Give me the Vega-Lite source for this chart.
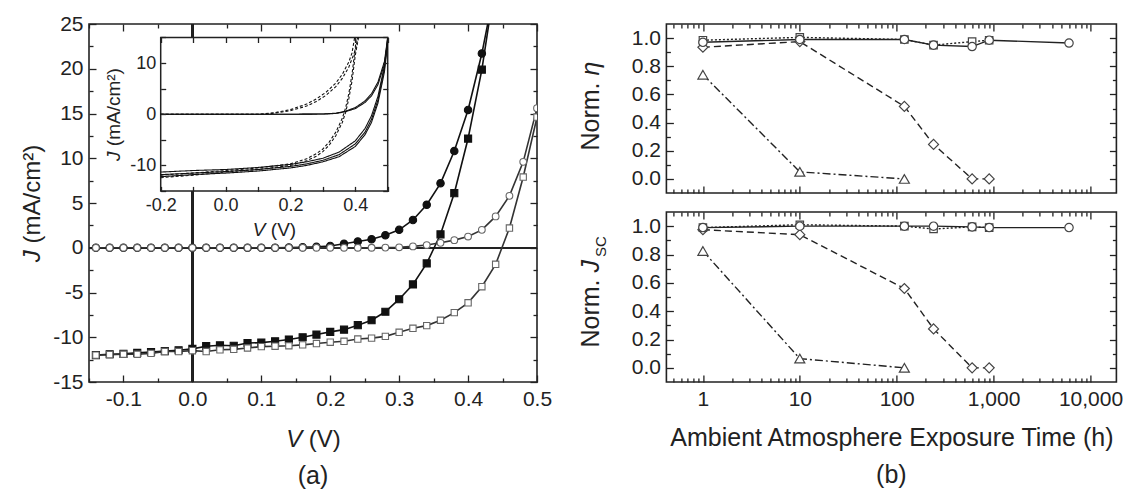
{
  "$schema": "https://vega.github.io/schema/vega-lite/v6.json",
  "padding": {"left": 19, "top": 12, "right": 0, "bottom": 0},
  "config": {
    "font": "Liberation Sans",
    "view": {"stroke": "#222", "strokeWidth": 1.6},
    "axis": {"domain": false, "grid": false, "labelFontSize": 21, "titleFontSize": 24, "labelColor": "#222", "titleColor": "#222", "tickColor": "#222", "tickWidth": 1.3, "labelFont": "Liberation Sans", "titleFont": "Liberation Sans", "titleFontWeight": "normal", "labelOverlap": false, "labelFlush": false, "labelPadding": 13, "tickSize": -7},
    "title": {"fontSize": 25, "fontWeight": "normal", "font": "Liberation Sans", "color": "#222"}
  },
  "datasets": {
    "iv": [
      {"s": "d1", "V": -0.14, "J": 0}, {"s": "d1", "V": -0.12, "J": 0}, {"s": "d1", "V": -0.1, "J": 0}, {"s": "d1", "V": -0.08, "J": 0}, {"s": "d1", "V": -0.06, "J": 0}, {"s": "d1", "V": -0.04, "J": 0}, {"s": "d1", "V": -0.02, "J": 0}, {"s": "d1", "V": 0, "J": 0}, {"s": "d1", "V": 0.02, "J": 0}, {"s": "d1", "V": 0.04, "J": 0}, {"s": "d1", "V": 0.06, "J": 0}, {"s": "d1", "V": 0.08, "J": 0}, {"s": "d1", "V": 0.1, "J": 0}, {"s": "d1", "V": 0.12, "J": 0}, {"s": "d1", "V": 0.14, "J": 0.02}, {"s": "d1", "V": 0.16, "J": 0.05}, {"s": "d1", "V": 0.18, "J": 0.1}, {"s": "d1", "V": 0.2, "J": 0.2}, {"s": "d1", "V": 0.22, "J": 0.45}, {"s": "d1", "V": 0.24, "J": 0.7}, {"s": "d1", "V": 0.26, "J": 0.95}, {"s": "d1", "V": 0.28, "J": 1.4}, {"s": "d1", "V": 0.3, "J": 2.0}, {"s": "d1", "V": 0.32, "J": 3.1}, {"s": "d1", "V": 0.34, "J": 4.8}, {"s": "d1", "V": 0.36, "J": 7.2}, {"s": "d1", "V": 0.38, "J": 10.8}, {"s": "d1", "V": 0.4, "J": 15.4}, {"s": "d1", "V": 0.42, "J": 21.7}, {"s": "d1", "V": 0.44, "J": 29.5},
      {"s": "l1", "V": -0.14, "J": -12.0}, {"s": "l1", "V": -0.12, "J": -11.9}, {"s": "l1", "V": -0.1, "J": -11.85}, {"s": "l1", "V": -0.08, "J": -11.75}, {"s": "l1", "V": -0.06, "J": -11.65}, {"s": "l1", "V": -0.04, "J": -11.55}, {"s": "l1", "V": -0.02, "J": -11.45}, {"s": "l1", "V": 0, "J": -11.3}, {"s": "l1", "V": 0.02, "J": -11.0}, {"s": "l1", "V": 0.04, "J": -10.9}, {"s": "l1", "V": 0.06, "J": -10.95}, {"s": "l1", "V": 0.08, "J": -10.65}, {"s": "l1", "V": 0.1, "J": -10.6}, {"s": "l1", "V": 0.12, "J": -10.45}, {"s": "l1", "V": 0.14, "J": -10.25}, {"s": "l1", "V": 0.16, "J": -10.0}, {"s": "l1", "V": 0.18, "J": -9.7}, {"s": "l1", "V": 0.2, "J": -9.4}, {"s": "l1", "V": 0.22, "J": -9.15}, {"s": "l1", "V": 0.24, "J": -8.65}, {"s": "l1", "V": 0.26, "J": -8.1}, {"s": "l1", "V": 0.28, "J": -7.15}, {"s": "l1", "V": 0.3, "J": -5.75}, {"s": "l1", "V": 0.32, "J": -4.1}, {"s": "l1", "V": 0.34, "J": -1.75}, {"s": "l1", "V": 0.36, "J": 1.5}, {"s": "l1", "V": 0.38, "J": 6.1}, {"s": "l1", "V": 0.4, "J": 12.2}, {"s": "l1", "V": 0.42, "J": 19.9}, {"s": "l1", "V": 0.44, "J": 30},
      {"s": "d2", "V": -0.14, "J": 0}, {"s": "d2", "V": -0.12, "J": 0}, {"s": "d2", "V": -0.1, "J": 0}, {"s": "d2", "V": -0.08, "J": 0}, {"s": "d2", "V": -0.06, "J": 0}, {"s": "d2", "V": -0.04, "J": 0}, {"s": "d2", "V": -0.02, "J": 0}, {"s": "d2", "V": 0, "J": 0}, {"s": "d2", "V": 0.02, "J": 0}, {"s": "d2", "V": 0.04, "J": 0}, {"s": "d2", "V": 0.06, "J": 0}, {"s": "d2", "V": 0.08, "J": 0}, {"s": "d2", "V": 0.1, "J": 0}, {"s": "d2", "V": 0.12, "J": 0}, {"s": "d2", "V": 0.14, "J": 0}, {"s": "d2", "V": 0.16, "J": 0}, {"s": "d2", "V": 0.18, "J": 0}, {"s": "d2", "V": 0.2, "J": 0}, {"s": "d2", "V": 0.22, "J": 0}, {"s": "d2", "V": 0.24, "J": 0}, {"s": "d2", "V": 0.26, "J": 0}, {"s": "d2", "V": 0.28, "J": 0.02}, {"s": "d2", "V": 0.3, "J": 0.05}, {"s": "d2", "V": 0.32, "J": 0.15}, {"s": "d2", "V": 0.34, "J": 0.3}, {"s": "d2", "V": 0.36, "J": 0.55}, {"s": "d2", "V": 0.38, "J": 0.85}, {"s": "d2", "V": 0.4, "J": 1.25}, {"s": "d2", "V": 0.42, "J": 2.0}, {"s": "d2", "V": 0.44, "J": 3.5}, {"s": "d2", "V": 0.46, "J": 5.8}, {"s": "d2", "V": 0.48, "J": 9.6}, {"s": "d2", "V": 0.5, "J": 15.6},
      {"s": "l2", "V": -0.14, "J": -12.0}, {"s": "l2", "V": -0.12, "J": -11.95}, {"s": "l2", "V": -0.1, "J": -11.9}, {"s": "l2", "V": -0.08, "J": -11.9}, {"s": "l2", "V": -0.06, "J": -11.8}, {"s": "l2", "V": -0.04, "J": -11.6}, {"s": "l2", "V": -0.02, "J": -11.6}, {"s": "l2", "V": 0, "J": -11.5}, {"s": "l2", "V": 0.02, "J": -11.6}, {"s": "l2", "V": 0.04, "J": -11.4}, {"s": "l2", "V": 0.06, "J": -11.35}, {"s": "l2", "V": 0.08, "J": -11.2}, {"s": "l2", "V": 0.1, "J": -11.05}, {"s": "l2", "V": 0.12, "J": -11.0}, {"s": "l2", "V": 0.14, "J": -10.95}, {"s": "l2", "V": 0.16, "J": -10.85}, {"s": "l2", "V": 0.18, "J": -10.7}, {"s": "l2", "V": 0.2, "J": -10.55}, {"s": "l2", "V": 0.22, "J": -10.45}, {"s": "l2", "V": 0.24, "J": -10.2}, {"s": "l2", "V": 0.26, "J": -10.1}, {"s": "l2", "V": 0.28, "J": -9.9}, {"s": "l2", "V": 0.3, "J": -9.45}, {"s": "l2", "V": 0.32, "J": -9.0}, {"s": "l2", "V": 0.34, "J": -8.7}, {"s": "l2", "V": 0.36, "J": -8.1}, {"s": "l2", "V": 0.38, "J": -7.25}, {"s": "l2", "V": 0.4, "J": -6.15}, {"s": "l2", "V": 0.42, "J": -4.35}, {"s": "l2", "V": 0.44, "J": -1.85}, {"s": "l2", "V": 0.46, "J": 2.2}, {"s": "l2", "V": 0.48, "J": 7.9}, {"s": "l2", "V": 0.5, "J": 14.6}
    ],
    "inset": [
      {"c": "sl1", "g": "solid", "V": -0.2, "J": -11.3}, {"c": "sl1", "g": "solid", "V": -0.1, "J": -11.0}, {"c": "sl1", "g": "solid", "V": 0.0, "J": -10.8}, {"c": "sl1", "g": "solid", "V": 0.1, "J": -10.4}, {"c": "sl1", "g": "solid", "V": 0.2, "J": -9.8}, {"c": "sl1", "g": "solid", "V": 0.25, "J": -9.3}, {"c": "sl1", "g": "solid", "V": 0.3, "J": -8.6}, {"c": "sl1", "g": "solid", "V": 0.35, "J": -7.4}, {"c": "sl1", "g": "solid", "V": 0.4, "J": -5.2}, {"c": "sl1", "g": "solid", "V": 0.43, "J": -2.8}, {"c": "sl1", "g": "solid", "V": 0.45, "J": -0.3}, {"c": "sl1", "g": "solid", "V": 0.47, "J": 3.5}, {"c": "sl1", "g": "solid", "V": 0.49, "J": 9.5}, {"c": "sl1", "g": "solid", "V": 0.5, "J": 15},
      {"c": "sl2", "g": "solid", "V": -0.2, "J": -11.8}, {"c": "sl2", "g": "solid", "V": -0.1, "J": -11.5}, {"c": "sl2", "g": "solid", "V": 0.0, "J": -11.2}, {"c": "sl2", "g": "solid", "V": 0.1, "J": -10.8}, {"c": "sl2", "g": "solid", "V": 0.2, "J": -10.2}, {"c": "sl2", "g": "solid", "V": 0.25, "J": -9.7}, {"c": "sl2", "g": "solid", "V": 0.3, "J": -9.0}, {"c": "sl2", "g": "solid", "V": 0.35, "J": -7.9}, {"c": "sl2", "g": "solid", "V": 0.4, "J": -5.8}, {"c": "sl2", "g": "solid", "V": 0.43, "J": -3.5}, {"c": "sl2", "g": "solid", "V": 0.45, "J": -1.0}, {"c": "sl2", "g": "solid", "V": 0.47, "J": 2.8}, {"c": "sl2", "g": "solid", "V": 0.49, "J": 9.0}, {"c": "sl2", "g": "solid", "V": 0.5, "J": 14.6},
      {"c": "sl3", "g": "solid", "V": -0.2, "J": -12.2}, {"c": "sl3", "g": "solid", "V": -0.1, "J": -11.8}, {"c": "sl3", "g": "solid", "V": 0.0, "J": -11.5}, {"c": "sl3", "g": "solid", "V": 0.1, "J": -11.1}, {"c": "sl3", "g": "solid", "V": 0.2, "J": -10.5}, {"c": "sl3", "g": "solid", "V": 0.25, "J": -10.0}, {"c": "sl3", "g": "solid", "V": 0.3, "J": -9.3}, {"c": "sl3", "g": "solid", "V": 0.35, "J": -8.3}, {"c": "sl3", "g": "solid", "V": 0.4, "J": -6.3}, {"c": "sl3", "g": "solid", "V": 0.43, "J": -4.0}, {"c": "sl3", "g": "solid", "V": 0.45, "J": -1.6}, {"c": "sl3", "g": "solid", "V": 0.47, "J": 2.2}, {"c": "sl3", "g": "solid", "V": 0.49, "J": 8.3}, {"c": "sl3", "g": "solid", "V": 0.5, "J": 14.0},
      {"c": "sd1", "g": "solid", "V": -0.2, "J": 0}, {"c": "sd1", "g": "solid", "V": 0.2, "J": 0}, {"c": "sd1", "g": "solid", "V": 0.3, "J": 0.05}, {"c": "sd1", "g": "solid", "V": 0.34, "J": 0.2}, {"c": "sd1", "g": "solid", "V": 0.37, "J": 0.6}, {"c": "sd1", "g": "solid", "V": 0.4, "J": 1.3}, {"c": "sd1", "g": "solid", "V": 0.43, "J": 2.6}, {"c": "sd1", "g": "solid", "V": 0.45, "J": 4.0}, {"c": "sd1", "g": "solid", "V": 0.47, "J": 6.3}, {"c": "sd1", "g": "solid", "V": 0.49, "J": 10.3}, {"c": "sd1", "g": "solid", "V": 0.5, "J": 15},
      {"c": "sd2", "g": "solid", "V": -0.2, "J": 0}, {"c": "sd2", "g": "solid", "V": 0.2, "J": 0}, {"c": "sd2", "g": "solid", "V": 0.3, "J": 0.04}, {"c": "sd2", "g": "solid", "V": 0.34, "J": 0.15}, {"c": "sd2", "g": "solid", "V": 0.37, "J": 0.5}, {"c": "sd2", "g": "solid", "V": 0.4, "J": 1.1}, {"c": "sd2", "g": "solid", "V": 0.43, "J": 2.3}, {"c": "sd2", "g": "solid", "V": 0.45, "J": 3.6}, {"c": "sd2", "g": "solid", "V": 0.47, "J": 5.8}, {"c": "sd2", "g": "solid", "V": 0.49, "J": 9.8}, {"c": "sd2", "g": "solid", "V": 0.5, "J": 14.2},
      {"c": "dd1", "g": "dash", "V": -0.2, "J": 0}, {"c": "dd1", "g": "dash", "V": 0.1, "J": 0}, {"c": "dd1", "g": "dash", "V": 0.15, "J": 0.3}, {"c": "dd1", "g": "dash", "V": 0.2, "J": 0.9}, {"c": "dd1", "g": "dash", "V": 0.25, "J": 2.0}, {"c": "dd1", "g": "dash", "V": 0.28, "J": 3.0}, {"c": "dd1", "g": "dash", "V": 0.31, "J": 4.3}, {"c": "dd1", "g": "dash", "V": 0.34, "J": 6.1}, {"c": "dd1", "g": "dash", "V": 0.36, "J": 7.8}, {"c": "dd1", "g": "dash", "V": 0.38, "J": 10.2}, {"c": "dd1", "g": "dash", "V": 0.39, "J": 12.0}, {"c": "dd1", "g": "dash", "V": 0.398, "J": 15},
      {"c": "dd2", "g": "dash", "V": -0.2, "J": 0}, {"c": "dd2", "g": "dash", "V": 0.12, "J": 0}, {"c": "dd2", "g": "dash", "V": 0.15, "J": 0.2}, {"c": "dd2", "g": "dash", "V": 0.2, "J": 0.7}, {"c": "dd2", "g": "dash", "V": 0.25, "J": 1.6}, {"c": "dd2", "g": "dash", "V": 0.28, "J": 2.5}, {"c": "dd2", "g": "dash", "V": 0.31, "J": 3.7}, {"c": "dd2", "g": "dash", "V": 0.34, "J": 5.4}, {"c": "dd2", "g": "dash", "V": 0.36, "J": 7.0}, {"c": "dd2", "g": "dash", "V": 0.38, "J": 9.2}, {"c": "dd2", "g": "dash", "V": 0.4, "J": 12.5}, {"c": "dd2", "g": "dash", "V": 0.408, "J": 15},
      {"c": "dl1", "g": "dash", "V": -0.2, "J": -11.9}, {"c": "dl1", "g": "dash", "V": -0.1, "J": -11.5}, {"c": "dl1", "g": "dash", "V": 0.0, "J": -11.0}, {"c": "dl1", "g": "dash", "V": 0.1, "J": -10.5}, {"c": "dl1", "g": "dash", "V": 0.2, "J": -9.7}, {"c": "dl1", "g": "dash", "V": 0.25, "J": -8.7}, {"c": "dl1", "g": "dash", "V": 0.28, "J": -7.7}, {"c": "dl1", "g": "dash", "V": 0.3, "J": -6.8}, {"c": "dl1", "g": "dash", "V": 0.32, "J": -5.4}, {"c": "dl1", "g": "dash", "V": 0.34, "J": -3.5}, {"c": "dl1", "g": "dash", "V": 0.36, "J": -0.8}, {"c": "dl1", "g": "dash", "V": 0.37, "J": 1.2}, {"c": "dl1", "g": "dash", "V": 0.38, "J": 4.0}, {"c": "dl1", "g": "dash", "V": 0.39, "J": 7.8}, {"c": "dl1", "g": "dash", "V": 0.4, "J": 13.0}, {"c": "dl1", "g": "dash", "V": 0.403, "J": 15},
      {"c": "dl2", "g": "dash", "V": -0.2, "J": -12.4}, {"c": "dl2", "g": "dash", "V": -0.1, "J": -11.9}, {"c": "dl2", "g": "dash", "V": 0.0, "J": -11.3}, {"c": "dl2", "g": "dash", "V": 0.1, "J": -10.8}, {"c": "dl2", "g": "dash", "V": 0.2, "J": -10.0}, {"c": "dl2", "g": "dash", "V": 0.25, "J": -9.1}, {"c": "dl2", "g": "dash", "V": 0.28, "J": -8.2}, {"c": "dl2", "g": "dash", "V": 0.3, "J": -7.3}, {"c": "dl2", "g": "dash", "V": 0.32, "J": -6.0}, {"c": "dl2", "g": "dash", "V": 0.34, "J": -4.2}, {"c": "dl2", "g": "dash", "V": 0.36, "J": -1.6}, {"c": "dl2", "g": "dash", "V": 0.37, "J": 0.3}, {"c": "dl2", "g": "dash", "V": 0.38, "J": 3.0}, {"c": "dl2", "g": "dash", "V": 0.39, "J": 6.5}, {"c": "dl2", "g": "dash", "V": 0.4, "J": 11.5}, {"c": "dl2", "g": "dash", "V": 0.41, "J": 15}
    ],
    "eta": [
      {"s": "tri", "t": 1, "v": 0.74}, {"s": "tri", "t": 10, "v": 0.05}, {"s": "tri", "t": 120, "v": 0.0},
      {"s": "dia", "t": 1, "v": 0.935}, {"s": "dia", "t": 10, "v": 0.975}, {"s": "dia", "t": 120, "v": 0.515}, {"s": "dia", "t": 240, "v": 0.245}, {"s": "dia", "t": 600, "v": 0.0}, {"s": "dia", "t": 900, "v": 0.0},
      {"s": "sq", "t": 1, "v": 0.985}, {"s": "sq", "t": 10, "v": 1.005}, {"s": "sq", "t": 120, "v": 0.99}, {"s": "sq", "t": 240, "v": 0.95}, {"s": "sq", "t": 600, "v": 0.975}, {"s": "sq", "t": 900, "v": 0.985},
      {"s": "cir", "t": 1, "v": 0.97}, {"s": "cir", "t": 10, "v": 0.99}, {"s": "cir", "t": 120, "v": 0.99}, {"s": "cir", "t": 240, "v": 0.95}, {"s": "cir", "t": 600, "v": 0.94}, {"s": "cir", "t": 900, "v": 0.985}, {"s": "cir", "t": 6000, "v": 0.965}
    ],
    "jsc": [
      {"s": "tri", "t": 1, "v": 0.825}, {"s": "tri", "t": 10, "v": 0.065}, {"s": "tri", "t": 120, "v": 0.0},
      {"s": "dia", "t": 1, "v": 0.975}, {"s": "dia", "t": 10, "v": 0.94}, {"s": "dia", "t": 120, "v": 0.56}, {"s": "dia", "t": 240, "v": 0.275}, {"s": "dia", "t": 600, "v": 0.0}, {"s": "dia", "t": 900, "v": 0.0},
      {"s": "sq", "t": 1, "v": 0.99}, {"s": "sq", "t": 10, "v": 1.01}, {"s": "sq", "t": 120, "v": 1.0}, {"s": "sq", "t": 240, "v": 0.98}, {"s": "sq", "t": 600, "v": 0.995}, {"s": "sq", "t": 900, "v": 0.99},
      {"s": "cir", "t": 1, "v": 0.99}, {"s": "cir", "t": 10, "v": 1.0}, {"s": "cir", "t": 120, "v": 1.0}, {"s": "cir", "t": 240, "v": 1.0}, {"s": "cir", "t": 600, "v": 0.995}, {"s": "cir", "t": 900, "v": 0.99}, {"s": "cir", "t": 6000, "v": 0.99}
    ]
  },
  "bounds": "flush",
  "spacing": 129.4,
  "hconcat": [
    {
      "width": 448,
      "height": 358,
      "title": {"text": "(a)", "orient": "bottom", "offset": 13},
      "resolve": {"scale": {"x": "independent", "y": "independent"}, "axis": {"x": "independent", "y": "independent"}},
      "layer": [
        {
          "data": {"name": "iv"},
          "layer": [
            {"mark": {"type": "rule", "color": "#222", "strokeWidth": 1.5}, "encoding": {"y": {"datum": 0, "type": "quantitative"}}},
            {"mark": {"type": "rule", "color": "#222", "strokeWidth": 1.5}, "encoding": {"x": {"datum": 0, "type": "quantitative"}}},
            {
              "mark": {"type": "line", "clip": true, "strokeWidth": 1.6},
              "encoding": {
                "x": {"field": "V", "type": "quantitative", "scale": {"domain": [-0.15, 0.5], "nice": false, "zero": false},
                  "axis": {"orient": "bottom", "title": "(V)", "titleX": 235.3, "titleY": 45, "titleBaseline": "top", "values": [-0.1, 0, 0.1, 0.2, 0.3, 0.4, 0.5],
                    "labelExpr": "replace(format(datum.value, '.1f'), '\u2212', '-')"}},
                "y": {"field": "J", "type": "quantitative", "scale": {"domain": [-15, 25], "nice": false, "zero": false},
                  "axis": {"orient": "left", "title": "(mA/cm\u00b2)", "titleAngle": 270, "titleBaseline": "bottom", "titleX": -44.3, "titleY": 169.7, "values": [-15, -10, -5, 0, 5, 10, 15, 20, 25],
                    "labelExpr": "replace(format(datum.value, 'd'), '\u2212', '-')"}},
                "color": {"field": "s", "type": "nominal", "scale": {"domain": ["d1", "l1", "d2", "l2"], "range": ["#111", "#111", "#333", "#333"]}, "legend": null}
              }
            },
            {
              "mark": {"type": "point", "clip": true, "filled": true, "opacity": 1, "strokeWidth": 1.1},
              "encoding": {
                "x": {"field": "V", "type": "quantitative"},
                "y": {"field": "J", "type": "quantitative"},
                "shape": {"field": "s", "type": "nominal", "scale": {"domain": ["d1", "l1", "d2", "l2"], "range": ["circle", "square", "circle", "square"]}, "legend": null},
                "fill": {"field": "s", "type": "nominal", "scale": {"domain": ["d1", "l1", "d2", "l2"], "range": ["#111", "#111", "#ffffff", "#ffffff"]}, "legend": null},
                "stroke": {"field": "s", "type": "nominal", "scale": {"domain": ["d1", "l1", "d2", "l2"], "range": ["#111", "#111", "#666", "#666"]}, "legend": null},
                "size": {"field": "s", "type": "nominal", "scale": {"domain": ["d1", "l1", "d2", "l2"], "range": [55, 40, 60, 45]}, "legend": null}
              }
            }
          ]
        },
        {
          "data": {"values": [{}]},
          "mark": {"type": "point", "opacity": 0},
          "encoding": {
            "x": {"datum": 0, "type": "quantitative", "scale": {"domain": [-0.15, 0.5], "nice": false, "zero": false},
              "axis": {"orient": "bottom", "title": "V", "titleFontStyle": "italic", "titleX": 204.7, "titleY": 45, "titleBaseline": "top", "labels": false, "tickSize": -4, "values": [-0.15, -0.05, 0.05, 0.15, 0.25, 0.35, 0.45]}},
            "y": {"datum": 0, "type": "quantitative", "scale": {"domain": [-15, 25], "nice": false, "zero": false},
              "axis": {"orient": "left", "title": "J", "titleFontStyle": "italic", "titleAngle": 270, "titleBaseline": "bottom", "titleX": -44.3, "titleY": 231.7, "labels": false, "tickSize": -4, "values": [-12.5, -7.5, -2.5, 2.5, 7.5, 12.5, 17.5, 22.5]}}
          }
        },
        {
          "data": {"values": [{}]},
          "mark": {"type": "point", "opacity": 0},
          "encoding": {
            "x": {"datum": 0, "type": "quantitative", "scale": {"domain": [-0.15, 0.5], "nice": false, "zero": false},
              "axis": {"orient": "top", "title": null, "labels": false, "values": [-0.1, 0, 0.1, 0.2, 0.3, 0.4, 0.5]}},
            "y": {"datum": 0, "type": "quantitative", "scale": {"domain": [-15, 25], "nice": false, "zero": false},
              "axis": {"orient": "right", "title": null, "labels": false, "values": [-15, -10, -5, 0, 5, 10, 15, 20, 25]}}
          }
        },
        {
          "data": {"values": [{}]},
          "mark": {"type": "point", "opacity": 0},
          "encoding": {
            "x": {"datum": 0, "type": "quantitative", "scale": {"domain": [-0.15, 0.5], "nice": false, "zero": false},
              "axis": {"orient": "top", "title": null, "labels": false, "tickSize": -4, "values": [-0.15, -0.05, 0.05, 0.15, 0.25, 0.35, 0.45]}},
            "y": {"datum": 0, "type": "quantitative", "scale": {"domain": [-15, 25], "nice": false, "zero": false},
              "axis": {"orient": "right", "title": null, "labels": false, "tickSize": -4, "values": [-12.5, -7.5, -2.5, 2.5, 7.5, 12.5, 17.5, 22.5]}}
          }
        },
        {
          "data": {"name": "inset"},
          "layer": [
            {
              "data": {"values": [{}]},
              "mark": {"type": "rect", "fill": "white", "stroke": "#222", "strokeWidth": 1.5},
              "encoding": {
                "x": {"datum": -0.2, "type": "quantitative", "scale": {"domain": [-0.4211, 0.9604], "nice": false, "zero": false},
                  "axis": {"orient": "bottom", "offset": -190.6, "zindex": 1, "title": "(V)", "titleFontSize": 19, "titleX": 194, "titleY": 29, "titleBaseline": "top", "labelFontSize": 18, "labelPadding": 10, "tickSize": -5,
                    "values": [-0.2, -0.1, 0, 0.1, 0.2, 0.3, 0.4, 0.5],
                    "labelExpr": "round(datum.value*10) % 2 == 0 ? replace(format(datum.value, '.1f'), '\u2212', '-') : ''"}},
                "x2": {"datum": 0.5},
                "y": {"datum": -15, "type": "quantitative", "scale": {"domain": [-52.33, 17.638], "nice": false, "zero": false},
                  "axis": {"orient": "left", "offset": -71.7, "zindex": 1, "title": "(mA/cm\u00b2)", "titleFontSize": 19, "titleAngle": 270, "titleBaseline": "bottom", "titleX": -37, "titleY": 82.6, "labelFontSize": 18, "labelPadding": 10, "tickSize": -5,
                    "values": [-15, -10, -5, 0, 5, 10, 15],
                    "labelExpr": "datum.value % 10 == 0 ? replace(format(datum.value, 'd'), '\u2212', '-') : ''"}},
                "y2": {"datum": 15}
              }
            },
            {
              "mark": {"type": "line", "strokeWidth": 1.1},
              "encoding": {
                "x": {"field": "V", "type": "quantitative"},
                "y": {"field": "J", "type": "quantitative"},
                "detail": {"field": "c", "type": "nominal"},
                "color": {"field": "g", "type": "nominal", "scale": {"domain": ["dash", "solid"], "range": ["#222", "#777"]}, "legend": null},
                "strokeDash": {"field": "g", "type": "nominal", "scale": {"domain": ["dash", "solid"], "range": [[3, 2], [1, 0]]}, "legend": null}
              }
            }
          ]
        },
        {
          "data": {"values": [{}]},
          "mark": {"type": "point", "opacity": 0},
          "encoding": {
            "x": {"datum": 0, "type": "quantitative", "scale": {"domain": [-0.4211, 0.9604], "nice": false, "zero": false},
              "axis": {"orient": "top", "offset": -13.5, "zindex": 1, "title": null, "labels": false, "tickSize": -5, "values": [-0.2, -0.1, 0, 0.1, 0.2, 0.3, 0.4, 0.5]}},
            "y": {"datum": 0, "type": "quantitative", "scale": {"domain": [-52.33, 17.638], "nice": false, "zero": false},
              "axis": {"orient": "right", "offset": -149.3, "zindex": 1, "title": null, "labels": false, "tickSize": -5, "values": [-15, -10, -5, 0, 5, 10, 15]}}
          }
        },
        {
          "data": {"values": [{}]},
          "mark": {"type": "point", "opacity": 0},
          "encoding": {
            "x": {"datum": 0, "type": "quantitative", "scale": {"domain": [-0.4211, 0.9604], "nice": false, "zero": false},
              "axis": {"orient": "bottom", "offset": -190.6, "zindex": 1, "title": "V", "titleFontSize": 19, "titleFontStyle": "italic", "titleX": 169.7, "titleY": 29, "titleBaseline": "top", "labels": false, "ticks": false, "values": [0]}},
            "y": {"datum": 0, "type": "quantitative", "scale": {"domain": [-52.33, 17.638], "nice": false, "zero": false},
              "axis": {"orient": "left", "offset": -71.7, "zindex": 1, "title": "J", "titleFontSize": 19, "titleFontStyle": "italic", "titleAngle": 270, "titleBaseline": "bottom", "titleX": -37, "titleY": 131.75, "labels": false, "ticks": false, "values": [0]}}
          }
        }
      ]
    },
    {
      "bounds": "flush",
      "spacing": 19,
      "vconcat": [
        {
          "width": 450,
          "height": 169,
          "resolve": {"scale": {"x": "independent", "y": "independent"}, "axis": {"x": "independent", "y": "independent"}},
          "layer": [
            {
              "data": {"name": "eta"},
              "encoding": {
                "x": {"field": "t", "type": "quantitative", "scale": {"type": "log", "domain": [0.42, 18500], "nice": false},
                  "axis": {"orient": "bottom", "title": null, "labels": false, "values": [1, 10, 100, 1000, 10000]}},
                "y": {"field": "v", "type": "quantitative", "scale": {"domain": [-0.1, 1.1], "nice": false, "zero": false},
                  "axis": {"orient": "left", "title": "Norm.", "titleFontSize": 25, "titleAngle": 270, "titleBaseline": "bottom", "titleX": -63.2, "titleY": 92, "values": [0, 0.2, 0.4, 0.6, 0.8, 1.0], "format": ".1f"}}
              },
              "layer": [
                {"transform": [{"filter": "datum.s == 'tri'"}], "mark": {"type": "line", "color": "#222", "strokeWidth": 1.4, "strokeDash": [8, 3, 2, 3]}},
                {"transform": [{"filter": "datum.s == 'dia'"}], "mark": {"type": "line", "color": "#222", "strokeWidth": 1.4, "strokeDash": [7, 4]}},
                {"transform": [{"filter": "datum.s == 'sq'"}], "mark": {"type": "line", "color": "#222", "strokeWidth": 1.4, "strokeDash": [2, 2]}},
                {"transform": [{"filter": "datum.s == 'cir'"}], "mark": {"type": "line", "color": "#222", "strokeWidth": 1.4}},
                {"transform": [{"filter": "datum.s == 'tri'"}], "mark": {"type": "point", "shape": "triangle-up", "size": 100, "filled": true, "opacity": 1, "fill": "white", "stroke": "#444", "strokeWidth": 1.2}},
                {"transform": [{"filter": "datum.s == 'dia'"}], "mark": {"type": "point", "shape": "diamond", "size": 100, "filled": true, "opacity": 1, "fill": "white", "stroke": "#444", "strokeWidth": 1.2}},
                {"transform": [{"filter": "datum.s == 'sq'"}], "mark": {"type": "point", "shape": "square", "size": 55, "filled": true, "opacity": 1, "fill": "white", "stroke": "#444", "strokeWidth": 1.2}},
                {"transform": [{"filter": "datum.s == 'cir'"}], "mark": {"type": "point", "shape": "circle", "size": 70, "filled": true, "opacity": 1, "fill": "white", "stroke": "#444", "strokeWidth": 1.2}}
              ]
            },
            {
              "data": {"values": [{}]},
              "mark": {"type": "point", "opacity": 0},
              "encoding": {
                "x": {"datum": 1, "type": "quantitative", "scale": {"type": "log", "domain": [0.42, 18500], "nice": false},
                  "axis": {"orient": "bottom", "title": null, "labels": false, "tickSize": -4, "values": [0.5, 0.6, 0.7, 0.8, 0.9, 2, 3, 4, 5, 6, 7, 8, 9, 20, 30, 40, 50, 60, 70, 80, 90, 200, 300, 400, 500, 600, 700, 800, 900, 2000, 3000, 4000, 5000, 6000, 7000, 8000, 9000]}},
                "y": {"datum": 0, "type": "quantitative", "scale": {"domain": [-0.1, 1.1], "nice": false, "zero": false},
                  "axis": {"orient": "left", "title": "\u03b7", "titleFontSize": 25, "titleFontStyle": "italic", "titleAngle": 270, "titleBaseline": "bottom", "titleX": -63.2, "titleY": 44, "labels": false, "tickSize": -4, "values": [0.1, 0.3, 0.5, 0.7, 0.9]}}
              }
            },
            {
              "data": {"values": [{}]},
              "mark": {"type": "point", "opacity": 0},
              "encoding": {
                "x": {"datum": 1, "type": "quantitative", "scale": {"type": "log", "domain": [0.42, 18500], "nice": false},
                  "axis": {"orient": "top", "title": null, "labels": false, "values": [1, 10, 100, 1000, 10000]}},
                "y": {"datum": 0, "type": "quantitative", "scale": {"domain": [-0.1, 1.1], "nice": false, "zero": false},
                  "axis": {"orient": "right", "title": null, "labels": false, "values": [0, 0.2, 0.4, 0.6, 0.8, 1.0]}}
              }
            },
            {
              "data": {"values": [{}]},
              "mark": {"type": "point", "opacity": 0},
              "encoding": {
                "x": {"datum": 1, "type": "quantitative", "scale": {"type": "log", "domain": [0.42, 18500], "nice": false},
                  "axis": {"orient": "top", "title": null, "labels": false, "tickSize": -4, "values": [0.5, 0.6, 0.7, 0.8, 0.9, 2, 3, 4, 5, 6, 7, 8, 9, 20, 30, 40, 50, 60, 70, 80, 90, 200, 300, 400, 500, 600, 700, 800, 900, 2000, 3000, 4000, 5000, 6000, 7000, 8000, 9000]}},
                "y": {"datum": 0, "type": "quantitative", "scale": {"domain": [-0.1, 1.1], "nice": false, "zero": false},
                  "axis": {"orient": "right", "title": null, "labels": false, "tickSize": -4, "values": [0.1, 0.3, 0.5, 0.7, 0.9]}}
              }
            }
          ]
        },
        {
          "width": 450,
          "height": 170,
          "title": {"text": "(b)", "orient": "bottom", "offset": 13},
          "resolve": {"scale": {"x": "independent", "y": "independent"}, "axis": {"x": "independent", "y": "independent"}},
          "layer": [
            {
              "data": {"name": "jsc"},
              "encoding": {
                "x": {"field": "t", "type": "quantitative", "scale": {"type": "log", "domain": [0.42, 18500], "nice": false},
                  "axis": {"orient": "bottom", "title": "Ambient Atmosphere Exposure Time (h)", "titleFontSize": 25, "titlePadding": 16, "values": [1, 10, 100, 1000, 10000], "format": ","}},
                "y": {"field": "v", "type": "quantitative", "scale": {"domain": [-0.1, 1.1], "nice": false, "zero": false},
                  "axis": {"orient": "left", "title": "Norm.", "titleFontSize": 25, "titleAngle": 270, "titleBaseline": "bottom", "titleX": -63.2, "titleY": 101, "values": [0, 0.2, 0.4, 0.6, 0.8, 1.0], "format": ".1f"}}
              },
              "layer": [
                {"transform": [{"filter": "datum.s == 'tri'"}], "mark": {"type": "line", "color": "#222", "strokeWidth": 1.4, "strokeDash": [8, 3, 2, 3]}},
                {"transform": [{"filter": "datum.s == 'dia'"}], "mark": {"type": "line", "color": "#222", "strokeWidth": 1.4, "strokeDash": [7, 4]}},
                {"transform": [{"filter": "datum.s == 'sq'"}], "mark": {"type": "line", "color": "#222", "strokeWidth": 1.4, "strokeDash": [2, 2]}},
                {"transform": [{"filter": "datum.s == 'cir'"}], "mark": {"type": "line", "color": "#222", "strokeWidth": 1.4}},
                {"transform": [{"filter": "datum.s == 'tri'"}], "mark": {"type": "point", "shape": "triangle-up", "size": 100, "filled": true, "opacity": 1, "fill": "white", "stroke": "#444", "strokeWidth": 1.2}},
                {"transform": [{"filter": "datum.s == 'dia'"}], "mark": {"type": "point", "shape": "diamond", "size": 100, "filled": true, "opacity": 1, "fill": "white", "stroke": "#444", "strokeWidth": 1.2}},
                {"transform": [{"filter": "datum.s == 'sq'"}], "mark": {"type": "point", "shape": "square", "size": 55, "filled": true, "opacity": 1, "fill": "white", "stroke": "#444", "strokeWidth": 1.2}},
                {"transform": [{"filter": "datum.s == 'cir'"}], "mark": {"type": "point", "shape": "circle", "size": 70, "filled": true, "opacity": 1, "fill": "white", "stroke": "#444", "strokeWidth": 1.2}}
              ]
            },
            {
              "data": {"values": [{}]},
              "mark": {"type": "point", "opacity": 0},
              "encoding": {
                "x": {"datum": 1, "type": "quantitative", "scale": {"type": "log", "domain": [0.42, 18500], "nice": false},
                  "axis": {"orient": "bottom", "title": null, "labels": false, "tickSize": -4, "values": [0.5, 0.6, 0.7, 0.8, 0.9, 2, 3, 4, 5, 6, 7, 8, 9, 20, 30, 40, 50, 60, 70, 80, 90, 200, 300, 400, 500, 600, 700, 800, 900, 2000, 3000, 4000, 5000, 6000, 7000, 8000, 9000]}},
                "y": {"datum": 0, "type": "quantitative", "scale": {"domain": [-0.1, 1.1], "nice": false, "zero": false},
                  "axis": {"orient": "left", "title": "SC", "titleFontSize": 15, "titleAngle": 270, "titleBaseline": "middle", "titleX": -66, "titleY": 34, "labels": false, "tickSize": -4, "values": [0.1, 0.3, 0.5, 0.7, 0.9]}}
              }
            },
            {
              "data": {"values": [{}]},
              "mark": {"type": "point", "opacity": 0},
              "encoding": {
                "y": {"datum": 0, "type": "quantitative", "scale": {"domain": [-0.1, 1.1], "nice": false, "zero": false},
                  "axis": {"orient": "left", "title": "J", "titleFontSize": 25, "titleFontStyle": "italic", "titleAngle": 270, "titleBaseline": "bottom", "titleX": -63.2, "titleY": 53.75, "labels": false, "ticks": false, "values": [0]}}
              }
            },
            {
              "data": {"values": [{}]},
              "mark": {"type": "point", "opacity": 0},
              "encoding": {
                "x": {"datum": 1, "type": "quantitative", "scale": {"type": "log", "domain": [0.42, 18500], "nice": false},
                  "axis": {"orient": "top", "title": null, "labels": false, "values": [1, 10, 100, 1000, 10000]}},
                "y": {"datum": 0, "type": "quantitative", "scale": {"domain": [-0.1, 1.1], "nice": false, "zero": false},
                  "axis": {"orient": "right", "title": null, "labels": false, "values": [0, 0.2, 0.4, 0.6, 0.8, 1.0]}}
              }
            },
            {
              "data": {"values": [{}]},
              "mark": {"type": "point", "opacity": 0},
              "encoding": {
                "x": {"datum": 1, "type": "quantitative", "scale": {"type": "log", "domain": [0.42, 18500], "nice": false},
                  "axis": {"orient": "top", "title": null, "labels": false, "tickSize": -4, "values": [0.5, 0.6, 0.7, 0.8, 0.9, 2, 3, 4, 5, 6, 7, 8, 9, 20, 30, 40, 50, 60, 70, 80, 90, 200, 300, 400, 500, 600, 700, 800, 900, 2000, 3000, 4000, 5000, 6000, 7000, 8000, 9000]}},
                "y": {"datum": 0, "type": "quantitative", "scale": {"domain": [-0.1, 1.1], "nice": false, "zero": false},
                  "axis": {"orient": "right", "title": null, "labels": false, "tickSize": -4, "values": [0.1, 0.3, 0.5, 0.7, 0.9]}}
              }
            }
          ]
        }
      ]
    }
  ]
}
